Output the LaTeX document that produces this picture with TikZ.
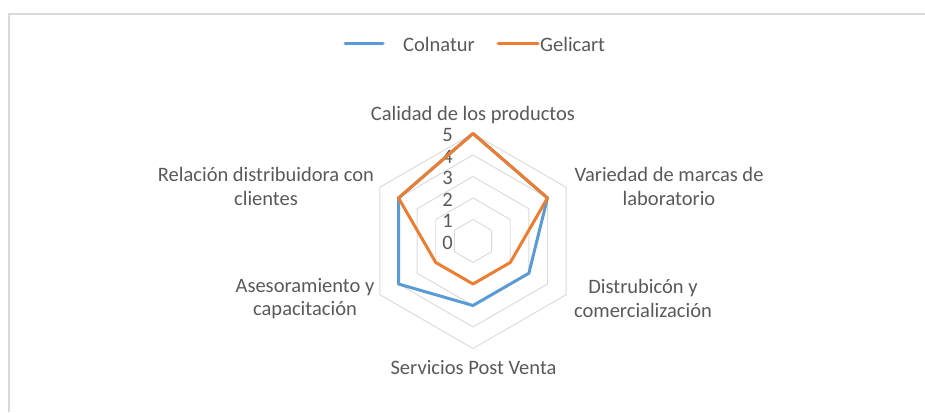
\documentclass[tikz,border=0pt]{standalone}
\usepackage{fontspec}
\setmainfont{Carlito}
\usetikzlibrary{positioning}
\definecolor{colnatur}{HTML}{5B9BD5}
\definecolor{gelicart}{HTML}{ED7D31}
\definecolor{gridgray}{HTML}{D9D9D9}
\definecolor{txtgray}{HTML}{595959}
\tikzstyle{axtext}=[text=txtgray, font=\fontsize{20.5}{23.5}\selectfont, align=center, inner sep=0pt]
\tikzstyle{ring}=[draw=gridgray, line width=0.9pt, line join=round]
\tikzstyle{serie}=[line width=3pt, line join=round, line cap=round]
\newcommand{\axlabel}{\node[axtext]}

\begin{document}
\begin{tikzpicture}[x=1pt, y=1pt]
\useasboundingbox (0,0) rectangle (925,412);
% chart border
\draw[gridgray, line width=2pt] (925,398) -- (9,398) -- (9,0);

% legend
\coordinate (la) at (345,368);
\coordinate (lb) at (383,368);
\coordinate (lc) at (498,368);
\coordinate (ld) at (538,368);
\draw[serie, colnatur] (la) -- (lb);
\draw[serie, gelicart] (lc) -- (ld);
\node[axtext, anchor=west] (lcol) at (403,368) {Colnatur};
\node[axtext, anchor=west] (lgel) at (540,368) {Gelicart};

\begin{scope}[shift={(473,171)}]
\coordinate (o) at (0,0);
% grid
\foreach \r in {1,...,5}
  \draw[ring] (90:\r*21.5) -- (30:\r*21.5) -- (-30:\r*21.5)
    -- (-90:\r*21.5) -- (-150:\r*21.5) -- (150:\r*21.5) -- cycle;
% scale
\foreach \k in {0,...,5}
  \node[axtext, anchor=east] (s\k) at (-20,{\k*21.5-1.5}) {\k};
% data
\foreach \v [count=\i] in {5,4,3,3,4,4}
  \coordinate (c\i) at ({150-60*\i}:\v*21.5);
\foreach \v [count=\i] in {5,4,2,2,2,4}
  \coordinate (g\i) at ({150-60*\i}:\v*21.5);
\draw[serie, colnatur] (c1) -- (c2) -- (c3) -- (c4) -- (c5) -- (c6) -- cycle;
\draw[serie, gelicart] (g1) -- (g2) -- (g3) -- (g4) -- (g5) -- (g6) -- cycle;
\end{scope}

% axis labels
\axlabel (calidad) at (473,297) {Calidad de los productos};
\axlabel (variedad) at (669,225.5) {Variedad de marcas de\\laboratorio};
\axlabel (distrib) at (643,113.5) {Distrubicón y\\comercialización};
\axlabel (servicios) at (473.5,44) {Servicios Post Venta};
\axlabel (asesor) at (305,113.5) {Asesoramiento y\\capacitación};
\axlabel (relacion) at (266,225.5) {Relación distribuidora con\\clientes};
\end{tikzpicture}
\end{document}
